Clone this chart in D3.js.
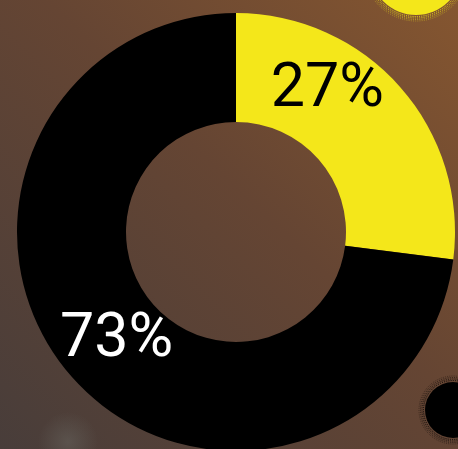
<!DOCTYPE html>
<html>
<head>
<meta charset="utf-8">
<script src="https://cdn.jsdelivr.net/npm/d3@7"></script>
<style>
  html, body { margin: 0; padding: 0; background: #634433; overflow: hidden; }
  svg { display: block; }
</style>
</head>
<body>
<div id="chart"></div>
<script>
// chart values
var labels = ['27%', '73%'];
var values = [27, 73];
var colors = ['#f4e71a', '#000000'];
var textColors = ['#000000', '#ffffff'];

var width = 458, height = 449;
var cx = 236, cy = 232;
var outerR = 219, innerR = 110;

var svg = d3.select('#chart').append('svg')
  .attr('width', width)
  .attr('height', height);

var defs = svg.append('defs');

// background gradient (orange top right -> grey bottom left)
var bg = defs.append('linearGradient')
  .attr('id', 'bg')
  .attr('x1', '100%').attr('y1', '0%')
  .attr('x2', '0%').attr('y2', '100%');
bg.append('stop').attr('offset', '0%').attr('stop-color', '#855630');
bg.append('stop').attr('offset', '45%').attr('stop-color', '#654533');
bg.append('stop').attr('offset', '100%').attr('stop-color', '#483d3a');

var blob = defs.append('radialGradient').attr('id', 'blob');
blob.append('stop').attr('offset', '0%').attr('stop-color', '#64605a').attr('stop-opacity', 0.6);
blob.append('stop').attr('offset', '100%').attr('stop-color', '#64605a').attr('stop-opacity', 0);

svg.append('rect')
  .attr('width', width)
  .attr('height', height)
  .attr('fill', 'url(#bg)');

svg.append('circle')
  .attr('cx', 68).attr('cy', 442).attr('r', 30)
  .attr('fill', 'url(#blob)');

// decorative dotted circles in the corners
var decos = [
  { x: 416, y: -31, r: 46, color: colors[0] },
  { x: 453, y: 410, r: 28, color: colors[1] }
];

decos.forEach(function(d){
  var g = svg.append('g').attr('transform', 'translate(' + d.x + ',' + d.y + ')');
  [1.5, 3, 4.5, 6].forEach(function(off, i){
    g.append('circle')
      .attr('r', d.r + off)
      .attr('fill', 'none')
      .attr('stroke', d.color)
      .attr('stroke-width', 1)
      .attr('stroke-dasharray', '1 1.2')
      .attr('opacity', 0.9 - i * 0.18);
  });
  g.append('circle')
    .attr('r', d.r)
    .attr('fill', d.color);
});

// donut
var pie = d3.pie().sort(null).value(function(d){ return d; });
var arc = d3.arc().innerRadius(innerR).outerRadius(outerR);
var arcs = pie(values);

var chart = svg.append('g')
  .attr('transform', 'translate(' + cx + ',' + cy + ')');

chart.selectAll('path.slice')
  .data(arcs)
  .enter().append('path')
  .attr('class', 'slice')
  .attr('d', arc)
  .attr('fill', function(d, i){ return colors[i]; });

// labels sit near the slice centroid, first one pulled toward the top
var nudge = [[-32, -17], [4, 15]];

chart.selectAll('text.label')
  .data(arcs)
  .enter().append('text')
  .attr('class', 'label')
  .attr('x', function(d, i){ return arc.centroid(d)[0] + nudge[i][0]; })
  .attr('y', function(d, i){ return arc.centroid(d)[1] + nudge[i][1]; })
  .attr('text-anchor', 'middle')
  .attr('font-family', 'Roboto, "Liberation Sans", sans-serif')
  .attr('font-size', '61px')
  .attr('font-weight', 400)
  .attr('fill', function(d, i){ return textColors[i]; })
  .text(function(d, i){ return labels[i]; });
</script>
</body>
</html>
